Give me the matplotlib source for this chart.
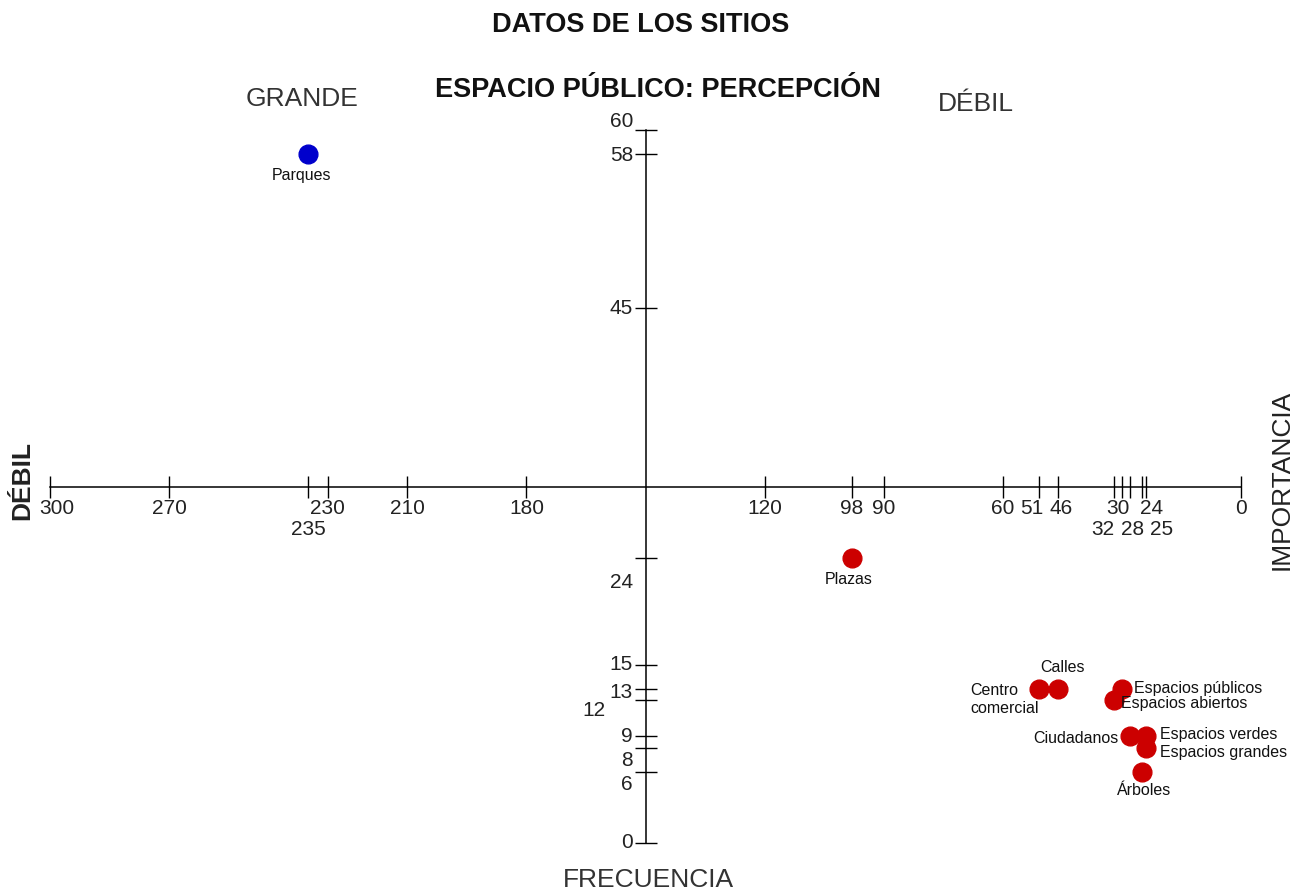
import matplotlib
matplotlib.use("Agg")
import matplotlib.pyplot as plt
from matplotlib import font_manager

plt.rcParams['font.family'] = ['Liberation Sans', 'DejaVu Sans']

# ---- data ----
sitios = ["Parques", "Plazas", "Calles", "Centro\ncomercial", "Espacios públicos",
          "Espacios abiertos", "Ciudadanos", "Espacios verdes", "Espacios grandes", "Árboles"]
frecuencia = [235, 98, 46, 51, 30, 32, 28, 24, 24, 25]
importancia = [58, 24, 13, 13, 13, 12, 9, 9, 8, 6]
grupo = ["grande", "debil", "debil", "debil", "debil", "debil", "debil", "debil", "debil", "debil"]

x_ticks = [300, 270, 235, 230, 210, 180, 120, 98, 90, 60, 51, 46, 32, 30, 28, 25, 24, 0]
x_second_row = [235, 32, 28, 25]
y_ticks = [60, 58, 45, 24, 15, 13, 12, 9, 8, 6, 0]

x_cross = 150
y_cross = 30

colores = {"grande": "#0000CC", "debil": "#CC0000"}

# narrow font for tick numbers if available
names = {f.name for f in font_manager.fontManager.ttflist}
if "Liberation Sans Narrow" in names:
    tick_family = ["Liberation Sans Narrow", "Liberation Sans"]
    tick_size = 17.5
else:
    tick_family = ["Liberation Sans", "DejaVu Sans"]
    tick_size = 15

# label placement (offset in points, ha, va)
label_style = {
    "Parques": ((-5, -10), "center", "top"),
    "Plazas": ((-2, -10), "center", "top"),
    "Calles": ((3, 10), "center", "bottom"),
    "Centro\ncomercial": ((-49, -8), "left", "center"),
    "Espacios públicos": ((9, 0), "left", "center"),
    "Espacios abiertos": ((5, -2), "left", "center"),
    "Ciudadanos": ((-8, -2), "right", "center"),
    "Espacios verdes": ((10, 1), "left", "center"),
    "Espacios grandes": ((10, -3), "left", "center"),
    "Árboles": ((2, -8), "center", "top"),
}
ylabel_offset = {60: (0, 6), 24: (0, -18), 12: (-20, -7), 8: (0, -9), 6: (0, -9), 13: (0, -3), 58: (0, -1)}
xlabel_dx = {300: 5, 51: -5, 46: 2, 32: -8, 30: -3, 28: 2, 25: 14, 24: 4}

W, H, DPI = 1298, 892, 100
fig = plt.figure(figsize=(W / DPI, H / DPI), dpi=DPI)
ax = fig.add_axes([0, 0, 1, 1])

pxx = (1241 - 50) / 300.0
pxy = (843 - 130) / 60.0
ax.set_xlim(300 + 50 / pxx, 0 - (W - 1241) / pxx)
ax.set_ylim(0 - (H - 843) / pxy, 60 + 130 / pxy)

for s in ["top", "right"]:
    ax.spines[s].set_visible(False)
ax.spines["left"].set_position(("data", x_cross))
ax.spines["bottom"].set_position(("data", y_cross))
ax.spines["left"].set_bounds(0, 60)
ax.spines["bottom"].set_bounds(0, 300)
for s in ["left", "bottom"]:
    ax.spines[s].set_linewidth(1.1)
ax.patch.set_visible(False)

ax.set_xticks(x_ticks)
ax.set_yticks(y_ticks)
ax.tick_params(axis="both", direction="inout", length=16, width=1.0, color="black",
               labelbottom=False, labelleft=False)

for v in x_ticks:
    dy = -24 if v in x_second_row else -9
    ax.annotate(str(v), xy=(v, y_cross), xytext=(xlabel_dx.get(v, 0), dy), textcoords="offset points",
                ha="center", va="top", fontsize=tick_size, family=tick_family, color="#222222")

for v in y_ticks:
    dx, dy = ylabel_offset.get(v, (0, 0))
    ax.annotate(str(v), xy=(x_cross, v), xytext=(-9 + dx, dy), textcoords="offset points",
                ha="right", va="center", fontsize=tick_size, family=tick_family, color="#222222")

# points
for name, xv, yv, g in zip(sitios, frecuencia, importancia, grupo):
    ax.plot(xv, yv, "o", ms=13.5, color=colores[g], mec=colores[g], zorder=3)
    (ox, oy), ha, va = label_style[name]
    ax.annotate(name, xy=(xv, yv), xytext=(ox, oy), textcoords="offset points",
                ha=ha, va=va, fontsize=11.5, color="#111111", linespacing=1.25, zorder=4)

def ft(xp, yp, s, **kw):
    fig.text(xp / W, 1 - yp / H, s, ha="center", va="center", **kw)

ft(641, 25, "DATOS DE LOS SITIOS", fontsize=19.5, fontweight="bold", color="#111111")
ft(658, 90, "ESPACIO PÚBLICO: PERCEPCIÓN", fontsize=19.5, fontweight="bold", color="#111111")
ft(302, 99, "GRANDE", fontsize=19, color="#333333")
ft(976, 104, "DÉBIL", fontsize=19, color="#333333")
ft(648, 880, "FRECUENCIA", fontsize=19, color="#333333")
ft(22, 480, "DÉBIL", fontsize=19, fontweight="bold", color="#222222", rotation=90)
ft(1282, 480, "IMPORTANCIA", fontsize=19, color="#222222", rotation=90)

fig.savefig("out.png", dpi=DPI)
